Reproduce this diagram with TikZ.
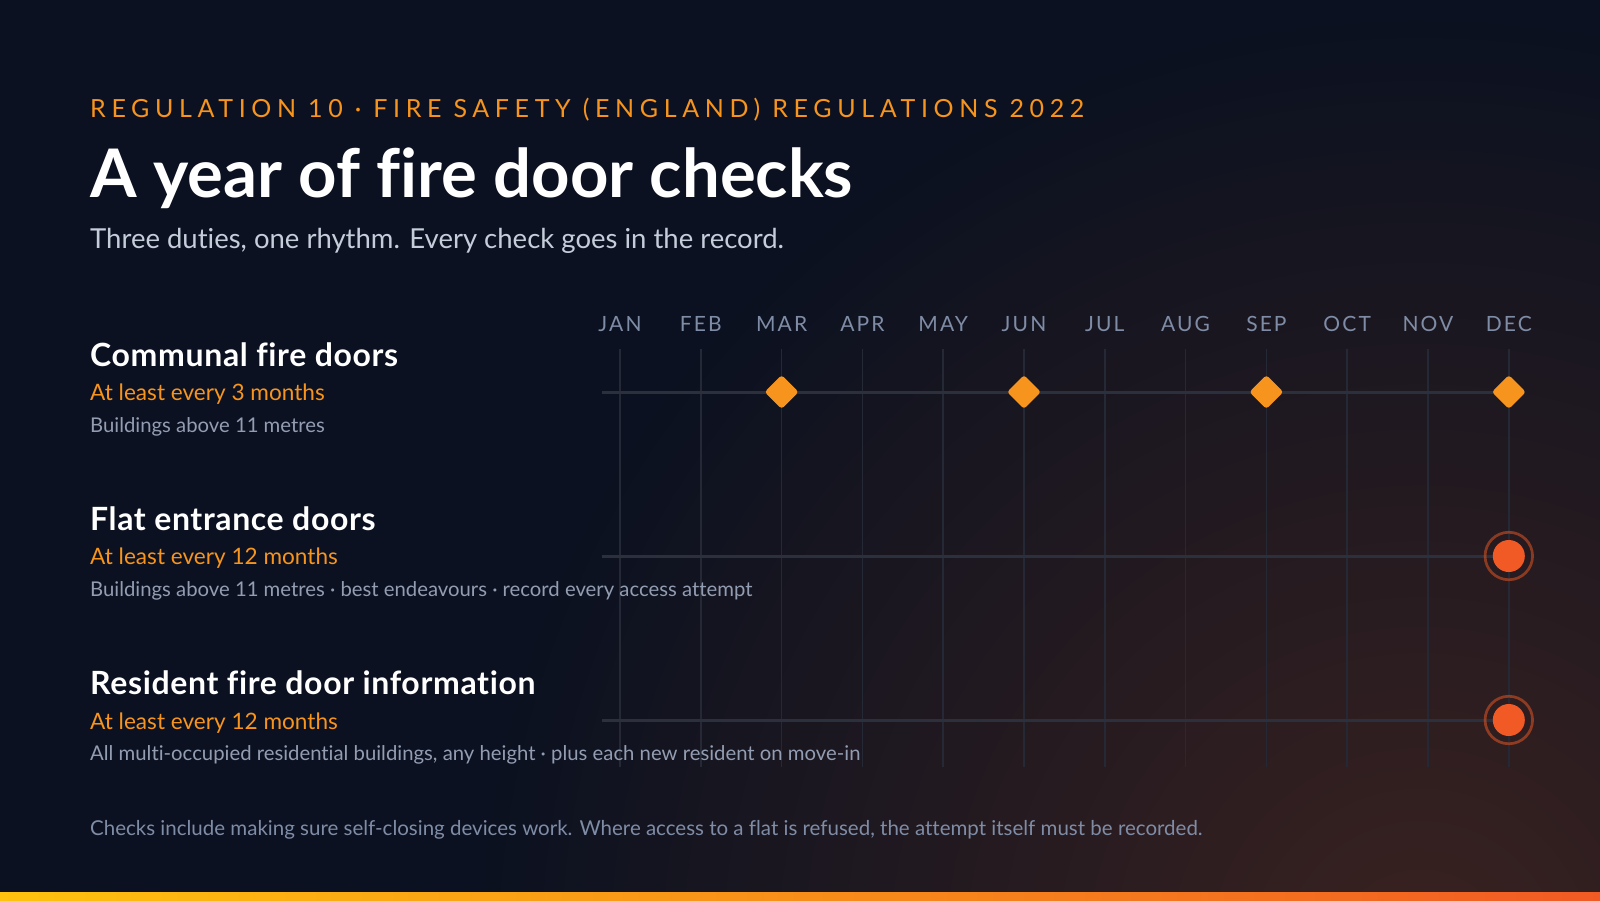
\documentclass[tikz,border=0pt]{standalone}
\usepackage{fontspec}
\setmainfont{Lato}[RawFeature={-liga;-dlig;-calt;-clig}]
\usetikzlibrary{positioning}
\definecolor{bgnavy}{HTML}{0B1120}
\definecolor{glowbrown}{HTML}{3A2220}
\definecolor{fireorange}{HTML}{F7941D}
\definecolor{firered}{HTML}{F15A24}
\definecolor{baryellow}{HTML}{FFC20E}
\definecolor{subgray}{HTML}{C5CCDA}
\definecolor{monthgray}{HTML}{7F8CA6}
\definecolor{detailgray}{HTML}{939DB2}
\definecolor{gridgray}{HTML}{242935}
\definecolor{trackgray}{HTML}{2B303C}
\begin{document}
\begin{tikzpicture}[x=1pt, y=-1pt,
    txt/.style={anchor=base west, inner sep=0pt},
    rowtitle/.style={txt, text=white, font=\fontsize{32}{32}\selectfont\bfseries\addfontfeatures{LetterSpace=2}},
    freq/.style={txt, text=fireorange, font=\fontsize{22.6}{22.6}\selectfont},
    detail/.style={txt, text=detailgray, font=\fontsize{20.3}{20.3}\selectfont},
    month/.style={anchor=base, inner sep=0pt, text=monthgray, font=\fontsize{21}{21}\selectfont\addfontfeatures{LetterSpace=10}},
    quarterly/.style={rectangle, rotate=45, fill=fireorange, minimum size=24pt, inner sep=0pt, rounded corners=3pt},
    annual/.style={circle, fill=firered, minimum size=32pt, inner sep=0pt},
    ring/.style={circle, draw=firered, draw opacity=0.5, line width=2.7pt, minimum size=47.5pt, inner sep=0pt}]
    \useasboundingbox (0,0) rectangle (1600,900);
    % Background and glow (bottom right)
    \begin{scope}
        \clip (0,0) rectangle (1600,900);
        \fill[bgnavy] (0,0) rectangle (1600,900);
        \shade[inner color=glowbrown, outer color=bgnavy] (1420,960) circle (950);
    \end{scope}
    % Heading
    \node[txt, text=fireorange, font=\fontsize{25}{25}\selectfont\addfontfeatures{LetterSpace=22.5}] (kicker) at (90,117) {REGULATION 10 · FIRE SAFETY (ENGLAND) REGULATIONS 2022};
    \node[txt, text=white, font=\fontsize{67}{67}\selectfont\bfseries] (title) at (90,197) {A year of fire door checks};
    \node[txt, text=subgray, font=\fontsize{27.5}{27.5}\selectfont] (subtitle) at (90,248) {Three duties, one rhythm. Every check goes in the record.};
    % Month labels and grid
    \foreach \m [count=\i] in {JAN,FEB,MAR,APR,MAY,JUN,JUL,AUG,SEP,OCT,NOV,DEC} {
        \node[month] (m\i) at (620+80.8*\i-80.8,331) {\m};
        \coordinate (g\i) at (620+80.8*\i-80.8,349);
        \coordinate (h\i) at (620+80.8*\i-80.8,767);
        \draw[gridgray, line width=1.5pt] (g\i) -- (h\i);
    }
    % Tracks
    \foreach \r/\y in {1/392,2/556,3/720} {
        \coordinate (s\r) at (602,\y);
        \coordinate (e\r) at (1525,\y);
        \draw[trackgray, line width=3pt] (s\r) -- (e\r);
    }
    % Row labels (left)
    \node[rowtitle] (comm) at (90,366) {Communal fire doors};
    \node[freq] (commfreq) at (90,400) {At least every 3 months};
    \node[detail] (commnote) at (90,432) {Buildings above 11 metres};
    \node[rowtitle] (flat) at (90,530) {Flat entrance doors};
    \node[freq] (flatfreq) at (90,564) {At least every 12 months};
    \node[detail] (flatnote) at (90,596) {Buildings above 11 metres · best endeavours · record every access attempt};
    \node[rowtitle] (resid) at (90,694) {Resident fire door information};
    \node[freq] (residfreq) at (90,729) {At least every 12 months};
    \node[detail] (residnote) at (90,760) {All multi-occupied residential buildings, any height · plus each new resident on move-in};
    % Quarterly checks
    \foreach \i in {3,6,9,12} {
        \node[quarterly] (q\i) at (m\i |- s1) {};
    }
    % Annual checks
    \foreach \r in {2,3} {
        \node[ring] (ring\r) at (m12 |- s\r) {};
        \node[annual] (dot\r) at (m12 |- s\r) {};
    }
    % Footnote and bottom bar
    \node[detail, text=monthgray, font=\fontsize{20.5}{20.5}\selectfont] (foot) at (90,835) {Checks include making sure self-closing devices work. Where access to a flat is refused, the attempt itself must be recorded.};
    \shade[left color=baryellow, right color=firered] (0,892) rectangle (1600,900);
\end{tikzpicture}
\end{document}
